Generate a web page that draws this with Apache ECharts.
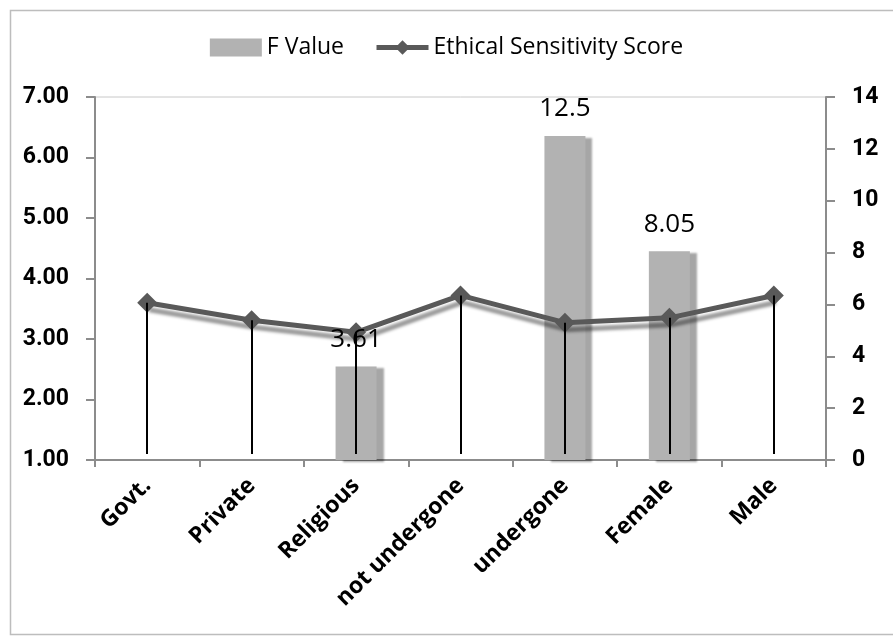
<!DOCTYPE html>
<html>
<head>
<meta charset="utf-8">
<script src="https://cdn.jsdelivr.net/npm/echarts@6/dist/echarts.min.js"></script>
<style>html,body{margin:0;padding:0;background:#fff;}#c{width:893px;height:639px;}</style>
</head>
<body>
<div id="c"></div>
<script>
const categories = ['Govt.', 'Private', 'Religious', 'not undergone', 'undergone', 'Female', 'Male'];
const fValues = [null, null, 3.61, null, 12.5, 8.05, null];
const sensitivityScores = [3.60, 3.31, 3.11, 3.72, 3.27, 3.35, 3.72];
const leftTicks = { min: 1, max: 7, interval: 1 };
const rightTicks = { min: 0, max: 14, interval: 2 };
const dropBase = 1.1;

const FONT = '"Open Sans", "Liberation Sans", sans-serif';
const AXFONT = 'Roboto, "Liberation Sans", sans-serif';
const chart = echarts.init(document.getElementById('c'), null, { renderer: 'canvas' });

const dropLines = categories.map((c, i) => [
  { coord: [c, sensitivityScores[i]] },
  { coord: [c, dropBase] }
]);

chart.setOption({
  animation: false,
  backgroundColor: '#fff',
  graphic: [{
    type: 'rect', left: 8, top: 8, shape: { width: 900, height: 624 },
    style: { fill: 'none', stroke: '#bdbdbd', lineWidth: 1.5 }, silent: true, z: -1
  }],
  legend: {
    top: 31, left: 'center', itemGap: 30, itemWidth: 52, itemHeight: 18,
    textStyle: { fontFamily: FONT, fontSize: 23, color: '#000' },
    data: [
      { name: 'F Value', icon: 'rect' },
      { name: 'Ethical Sensitivity Score', lineStyle: { width: 5, color: '#595959' } }
    ]
  },
  grid: { left: 95, right: 67, top: 97, bottom: 179, show: true, borderColor: '#c8c8c8', borderWidth: 1 },
  xAxis: {
    type: 'category', data: categories, boundaryGap: true,
    axisLine: { lineStyle: { color: '#8c8c8c', width: 2 } },
    axisTick: { show: true, length: 7, lineStyle: { color: '#8c8c8c', width: 2 } },
    axisLabel: { rotate: 45, interval: 0, margin: 22, fontFamily: FONT, fontSize: 23, fontWeight: 'bold', color: '#000' }
  },
  yAxis: [{
    type: 'value', min: leftTicks.min, max: leftTicks.max, interval: leftTicks.interval,
    axisLine: { show: true, lineStyle: { color: '#8c8c8c', width: 2 } },
    axisTick: { show: true, length: 9, lineStyle: { color: '#8c8c8c', width: 2 } },
    splitLine: { show: false },
    axisLabel: { margin: 26, fontFamily: AXFONT, fontSize: 23, fontWeight: 'bold', color: '#000', formatter: v => v.toFixed(2) }
  }, {
    type: 'value', min: rightTicks.min, max: rightTicks.max, interval: rightTicks.interval,
    position: 'right',
    axisLine: { show: true, lineStyle: { color: '#8c8c8c', width: 2 } },
    axisTick: { show: true, length: 9, lineStyle: { color: '#8c8c8c', width: 2 } },
    splitLine: { show: false },
    axisLabel: { margin: 26, fontFamily: AXFONT, fontSize: 23, fontWeight: 'bold', color: '#000' }
  }],
  series: [{
    name: 'F Value', type: 'bar', yAxisIndex: 1, data: fValues, barWidth: 41,
    itemStyle: { color: '#b2b2b2', shadowColor: 'rgba(0,0,0,0.35)', shadowOffsetX: 7, shadowOffsetY: 2, shadowBlur: 2 },
    z: 2
  }, {
    name: 'Ethical Sensitivity Score', type: 'line', yAxisIndex: 0, data: sensitivityScores,
    symbol: 'diamond', symbolSize: 20,
    itemStyle: { color: '#595959' },
    lineStyle: { color: '#595959', width: 5, shadowColor: 'rgba(0,0,0,0.4)', shadowOffsetY: 7, shadowOffsetX: 2, shadowBlur: 3 },
    markLine: {
      silent: true, symbol: 'none', label: { show: false },
      lineStyle: { color: '#000', width: 2, type: 'solid' },
      data: dropLines
    },
    z: 3
  }, {
    name: 'F Value labels', type: 'scatter', yAxisIndex: 1, data: fValues,
    symbolSize: 0, silent: true, itemStyle: { opacity: 1, color: '#000' },
    label: { show: true, position: 'top', distance: 14, fontFamily: FONT, fontSize: 26, color: '#000', opacity: 1,
      formatter: p => p.value == null ? '' : String(p.value) },
    z: 5
  }]
});
</script>
</body>
</html>
